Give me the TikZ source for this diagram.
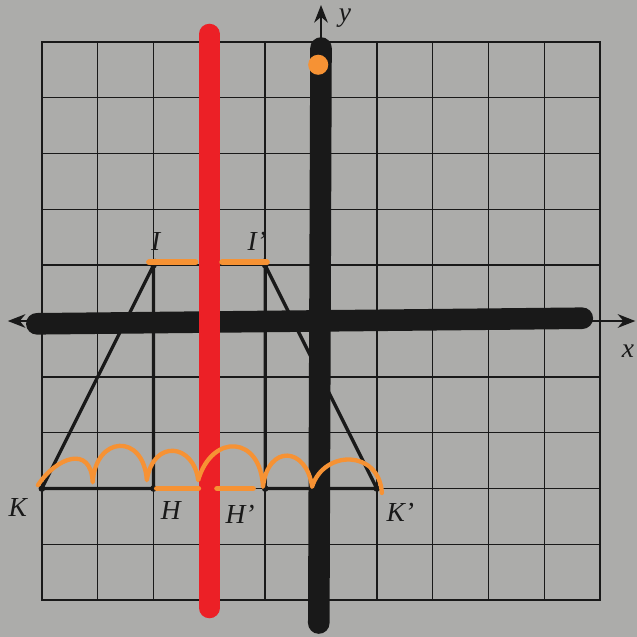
\documentclass[tikz,border=0pt]{standalone}
\usepackage{fontspec}
\setmainfont{Liberation Serif}
\usetikzlibrary{arrows.meta}
\definecolor{paper}{RGB}{172,172,170}
\definecolor{ink}{RGB}{25,25,25}
\definecolor{mred}{RGB}{236,32,38}
\definecolor{morange}{RGB}{246,146,52}
\tikzset{
  gridline/.style={draw=ink,line width=0.8pt},
  axisline/.style={draw=ink,line width=0.7pt,-{Stealth[length=9pt,width=7pt]}},
  side/.style={draw=ink,line width=1.7pt},
  marker/.style={line width=11pt,line cap=round},
  hilite/.style={draw=morange,line width=3pt,line cap=round},
  hop/.style={draw=morange,line width=2.2pt,line cap=round,line join=round},
  lbl/.style={font=\fontsize{14}{16}\selectfont\itshape,text=ink,inner sep=0pt},
  vdot/.style={fill=ink},
}
\begin{document}
\begin{tikzpicture}
\useasboundingbox (-5.75,-5.66) rectangle (5.66,5.75);
\fill[paper] (-5.75,-5.66) rectangle (5.66,5.75);
% grid
\draw[gridline] (-5,-5) grid (5,5);
\draw[gridline,line width=1.1pt] (-5,-5) rectangle (5,5);
% thin axes
\coordinate (xl) at (-5.61,0);
\coordinate (xr) at (5.63,0);
\coordinate (yb) at (0,-5);
\coordinate (yt) at (0,5.66);
\draw[axisline] (0,0) -- (xr);
\draw[axisline] (0,0) -- (xl);
\draw[axisline] (yb) -- (yt);
% triangle vertices
\coordinate (I) at (-3,1);
\coordinate (H) at (-3,-3);
\coordinate (K) at (-5,-3);
\coordinate (Ip) at (-1,1);
\coordinate (Hp) at (-1,-3);
\coordinate (Kp) at (1,-3);
\draw[side] (I) -- (H) -- (K) -- cycle;
\draw[side] (Ip) -- (Hp) -- (Kp) -- cycle;
\foreach \p in {I,H,K,Ip,Hp,Kp} \fill[vdot] (\p) circle (0.06);
% thick black marker axes
\coordinate (hxl) at (-5.09,-0.05);
\coordinate (hxr) at (4.68,0.05);
\coordinate (vyt) at (0,4.89);
\coordinate (vyb) at (-0.04,-5.41);
\draw[marker,ink] (hxl) -- (hxr);
\draw[marker,ink] (vyt) -- (vyb);
% orange dot
\coordinate (od) at (-0.05,4.59);
\fill[morange] (od) circle (0.18);
% red line of reflection
\coordinate (rt) at (-2,5.14);
\coordinate (rb) at (-2,-5.14);
\draw[marker,mred,line width=10.5pt] (rt) -- (rb);
% orange distance marks
\coordinate (t1) at (-3.08,1.05);
\coordinate (t2) at (-2.25,1.05);
\coordinate (t3) at (-1.77,1.05);
\coordinate (t4) at (-0.97,1.05);
\coordinate (b1) at (-2.94,-3.0);
\coordinate (b2) at (-2.2,-3.0);
\coordinate (b3) at (-1.86,-3.0);
\coordinate (b4) at (-1.22,-3.0);
\draw[hilite] (t1) -- (t2);
\draw[hilite] (t3) -- (t4);
\draw[hilite] (b1) -- (b2);
\draw[hilite] (b3) -- (b4);
% orange hops counting units
\coordinate (c0) at (-5.07,-2.94);
\coordinate (c1) at (-4.09,-2.89);
\coordinate (c2) at (-3.12,-2.85);
\coordinate (c3) at (-2.20,-2.85);
\coordinate (c4) at (-1.04,-2.97);
\coordinate (c5) at (-0.16,-2.97);
\coordinate (c6) at (1.09,-3.08);
\draw[hop] (c0) .. controls (-4.75,-2.45) and (-4.12,-2.2) .. (c1)
  .. controls (-4.04,-2.05) and (-3.18,-2.0) .. (c2)
  .. controls (-3.0,-2.1) and (-2.28,-2.2) .. (c3)
  .. controls (-1.95,-2.0) and (-1.08,-2.05) .. (c4)
  .. controls (-0.95,-2.2) and (-0.26,-2.25) .. (c5)
  .. controls (0.05,-2.3) and (1.04,-2.3) .. (c6);
% labels
\node[lbl] (lK) at (-5.43,-3.34) {K};
\node[lbl] (lH) at (-2.69,-3.40) {H};
\node[lbl] (lHp) at (-1.45,-3.46) {H'};
\node[lbl] (lKp) at (1.42,-3.42) {K'};
\node[lbl] (lI) at (-2.96,1.42) {I};
\node[lbl] (lIp) at (-1.15,1.42) {I'};
\node[lbl] (ly) at (0.43,5.43) {y};
\node[lbl] (lx) at (5.5,-0.54) {x};
\end{tikzpicture}
\end{document}
